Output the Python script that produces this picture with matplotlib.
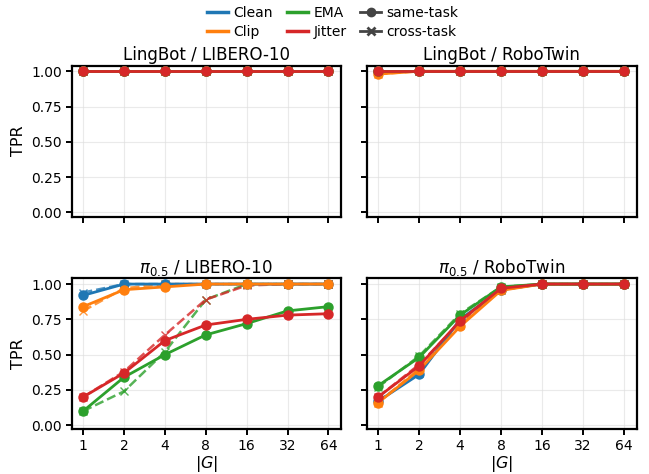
import matplotlib
matplotlib.use("Agg")
import matplotlib.pyplot as plt
from matplotlib.lines import Line2D

plt.rcParams["font.family"] = ["DejaVu Sans"]
plt.rcParams["mathtext.fontset"] = "dejavusans"

# group sizes |G|
group_sizes = [1, 2, 4, 8, 16, 32, 64]
methods = ["Clean", "Clip", "EMA", "Jitter"]
colors = {"Clean": "#1f77b4", "Clip": "#ff7f0e", "EMA": "#2ca02c", "Jitter": "#d62728"}

# LingBot / LIBERO-10
lb_libero_same = {
    "Clean": [1.00, 1.00, 1.00, 1.00, 1.00, 1.00, 1.00],
    "Clip": [1.00, 1.00, 1.00, 1.00, 1.00, 1.00, 1.00],
    "EMA": [1.00, 1.00, 1.00, 1.00, 1.00, 1.00, 1.00],
    "Jitter": [1.00, 1.00, 1.00, 1.00, 1.00, 1.00, 1.00],
}
lb_libero_cross = lb_libero_same

# LingBot / RoboTwin
lb_robo_same = {
    "Clean": [1.00, 1.00, 1.00, 1.00, 1.00, 1.00, 1.00],
    "Clip": [0.98, 1.00, 1.00, 1.00, 1.00, 1.00, 1.00],
    "EMA": [1.00, 1.00, 1.00, 1.00, 1.00, 1.00, 1.00],
    "Jitter": [1.00, 1.00, 1.00, 1.00, 1.00, 1.00, 1.00],
}
lb_robo_cross = lb_robo_same

# pi0.5 / LIBERO-10
pi_libero_same = {
    "Clean": [0.92, 1.00, 1.00, 1.00, 1.00, 1.00, 1.00],
    "Clip": [0.84, 0.96, 0.98, 1.00, 1.00, 1.00, 1.00],
    "EMA": [0.10, 0.34, 0.50, 0.64, 0.72, 0.81, 0.84],
    "Jitter": [0.20, 0.37, 0.60, 0.71, 0.75, 0.78, 0.79],
}
pi_libero_cross = {
    "Clean": [0.94, 1.00, 1.00, 1.00, 1.00, 1.00, 1.00],
    "Clip": [0.81, 0.97, 1.00, 1.00, 1.00, 1.00, 1.00],
    "EMA": [0.10, 0.24, 0.52, 0.89, 1.00, 1.00, 1.00],
    "Jitter": [0.20, 0.38, 0.64, 0.89, 0.99, 1.00, 1.00],
}

# pi0.5 / RoboTwin
pi_robo_same = {
    "Clean": [0.17, 0.36, 0.75, 0.96, 1.00, 1.00, 1.00],
    "Clip": [0.16, 0.39, 0.70, 0.955, 1.00, 1.00, 1.00],
    "EMA": [0.28, 0.48, 0.78, 0.98, 1.00, 1.00, 1.00],
    "Jitter": [0.20, 0.42, 0.74, 0.97, 1.00, 1.00, 1.00],
}
pi_robo_cross = {
    "Clean": [0.17, 0.37, 0.74, 0.96, 1.00, 1.00, 1.00],
    "Clip": [0.16, 0.40, 0.71, 0.96, 1.00, 1.00, 1.00],
    "EMA": [0.27, 0.49, 0.79, 0.98, 1.00, 1.00, 1.00],
    "Jitter": [0.20, 0.43, 0.73, 0.97, 1.00, 1.00, 1.00],
}

panels = [
    ("LingBot / LIBERO-10", lb_libero_same, lb_libero_cross),
    ("LingBot / RoboTwin", lb_robo_same, lb_robo_cross),
    (r"$\pi_{0.5}$ / LIBERO-10", pi_libero_same, pi_libero_cross),
    (r"$\pi_{0.5}$ / RoboTwin", pi_robo_same, pi_robo_cross),
]

fig = plt.figure(figsize=(6.49, 4.74), dpi=100)
rects = [
    [0.1105, 0.543, 0.415, 0.3186],
    [0.565, 0.543, 0.416, 0.3186],
    [0.1105, 0.094, 0.415, 0.3186],
    [0.565, 0.094, 0.416, 0.3186],
]

xs = list(range(len(group_sizes)))
for i, (title, same, cross) in enumerate(panels):
    ax = fig.add_axes(rects[i])
    for m in methods:
        ax.plot(xs, cross[m], color=colors[m], linestyle="--", marker="x",
                markersize=6, linewidth=1.8, alpha=0.8, zorder=2)
        ax.plot(xs, same[m], color=colors[m], linestyle="-", marker="o",
                markersize=6.5, linewidth=2.0, zorder=3)
    ax.set_title(title, fontsize=12, pad=4)
    ax.set_xlim(-0.28, 6.31)
    ax.set_ylim(-0.03, 1.04)
    ax.set_xticks(xs)
    ax.set_yticks([0.0, 0.25, 0.5, 0.75, 1.0])
    ax.grid(True, color="#dddddd", alpha=0.6, linewidth=0.8)
    for s in ax.spines.values():
        s.set_linewidth(1.6)
    ax.tick_params(labelsize=10, width=1.4, length=4, pad=3)
    if i < 2:
        ax.set_xticklabels([])
    else:
        ax.set_xticklabels([str(g) for g in group_sizes])
        ax.set_xlabel(r"$|G|$", fontsize=11.5, labelpad=0.5)
    if i % 2 == 0:
        ax.set_ylabel("TPR", fontsize=11.5, labelpad=4)
        ax.set_yticklabels(["0.00", "0.25", "0.50", "0.75", "1.00"])
    else:
        ax.set_yticklabels([])

handles = [
    Line2D([], [], color=colors["Clean"], linewidth=2.5, label="Clean"),
    Line2D([], [], color=colors["Clip"], linewidth=2.5, label="Clip"),
    Line2D([], [], color=colors["EMA"], linewidth=2.5, label="EMA"),
    Line2D([], [], color=colors["Jitter"], linewidth=2.5, label="Jitter"),
    Line2D([], [], color="#444444", linewidth=2, marker="o", markersize=6, label="same-task"),
    Line2D([], [], color="#444444", linewidth=2, linestyle="-", marker="x", markersize=6,
           markeredgewidth=2, label="cross-task"),
]
fig.legend(handles=handles, loc="upper center", bbox_to_anchor=(0.513, 1.0), ncol=3,
           frameon=False, fontsize=10, handlelength=1.5, handletextpad=0.4,
           columnspacing=1.0, labelspacing=0.4, borderaxespad=0.0)

fig.savefig("out.png", dpi=100)
